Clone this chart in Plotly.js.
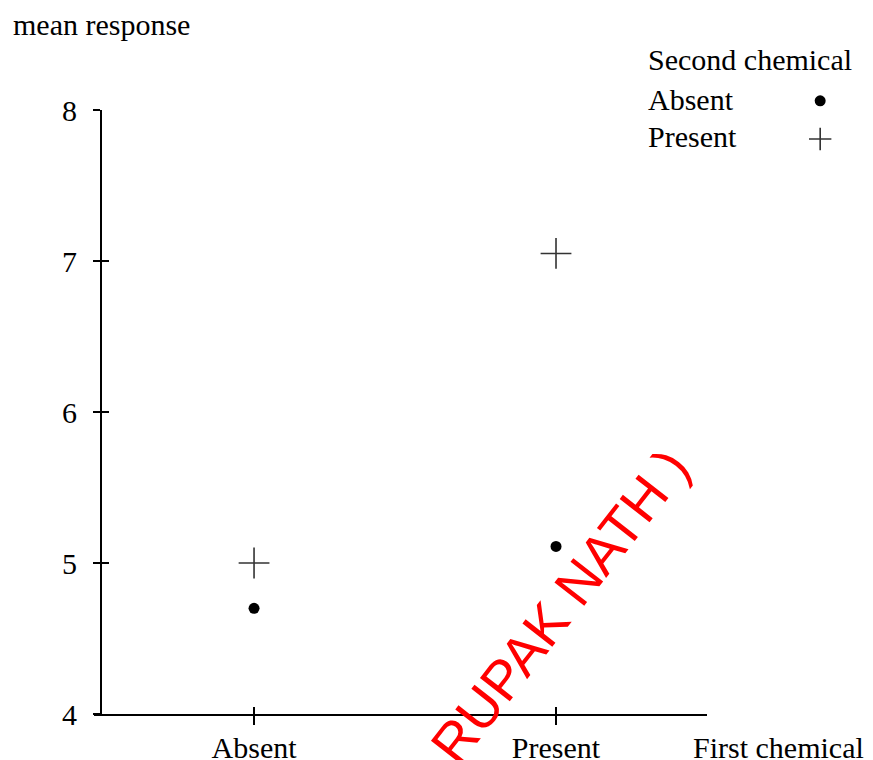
<!DOCTYPE html>
<html>
<head>
<meta charset="utf-8">
<script src="https://cdn.plot.ly/plotly-3.0.1.min.js"></script>
<style>
  html, body { margin: 0; padding: 0; background: #fff; }
  #chart { width: 873px; height: 760px; }
</style>
</head>
<body>
<div id="chart"></div>
<script>
// ---- data ----
const firstChemical = ['Absent', 'Present'];
const secondAbsentMeans = [4.70, 5.11];
const secondPresentMeans = [5.00, 7.05];
const yTickVals = [4, 5, 6, 7, 8];
const yAxisLabel = 'mean response';
const xAxisLabel = 'First chemical';
const legendTitle = 'Second chemical';
const seriesNames = ['Absent', 'Present'];
const watermark = 'RUPAK NATH )';

const serif = 'Liberation Serif, Times New Roman, serif';
const fs = 30;

const traces = [
  {
    x: firstChemical, y: secondAbsentMeans, type: 'scatter', mode: 'markers',
    name: '', xaxis: 'x', yaxis: 'y',
    marker: { symbol: 'circle', size: 11, color: '#000' },
    hoverinfo: 'x+y'
  },
  {
    x: firstChemical, y: secondPresentMeans, type: 'scatter', mode: 'markers',
    name: '', xaxis: 'x', yaxis: 'y',
    marker: { symbol: 'cross-thin-open', size: 22, color: '#333', line: { width: 1.6, color: '#333' } },
    hoverinfo: 'x+y'
  }
];

const axisCommon = {
  showgrid: false, zeroline: false, tickcolor: '#000', tickwidth: 1.6,
  tickfont: { family: serif, size: fs, color: '#000' }
};

const layout = {
  width: 873, height: 760,
  margin: { l: 94, r: 166, t: 110, b: 46, pad: 0 },
  paper_bgcolor: '#fff', plot_bgcolor: '#fff',
  showlegend: true,
  legend: {
    x: 1.152, y: 1.055, xanchor: 'left', yanchor: 'top',
    font: { family: serif, size: 27, color: '#000' },
    bgcolor: 'rgba(0,0,0,0)', borderwidth: 0, itemwidth: 30
  },
  xaxis: Object.assign({}, axisCommon, {
    type: 'category', categoryorder: 'array', categoryarray: firstChemical,
    range: [-0.53, 1.5], showline: true, linecolor: '#000', linewidth: 2,
    ticks: 'outside', ticklen: 9, anchor: 'y', ticklabelstandoff: -3
  }),
  xaxis2: Object.assign({}, axisCommon, {
    type: 'category', categoryorder: 'array', categoryarray: firstChemical,
    range: [-0.53, 1.5], overlaying: 'x', anchor: 'y', side: 'bottom',
    ticks: 'inside', ticklen: 7, showticklabels: false, showline: false
  }),
  yaxis: Object.assign({}, axisCommon, {
    range: [4, 8], tickvals: yTickVals, showline: true, linecolor: '#000', linewidth: 2,
    ticks: 'outside', ticklen: 7, anchor: 'free', position: 7 / 613, ticklabelstandoff: 10
  }),
  yaxis2: Object.assign({}, axisCommon, {
    range: [4, 8], tickvals: yTickVals, overlaying: 'y', anchor: 'free', position: 7 / 613,
    ticks: 'inside', ticklen: 7, showticklabels: false, showline: false
  }),
  annotations: [
    { text: yAxisLabel, xref: 'paper', yref: 'paper', x: -83 / 613, y: (714 - 24) / 604,
      xanchor: 'left', yanchor: 'middle', showarrow: false, font: { family: serif, size: fs, color: '#000' } },
    { text: xAxisLabel, xref: 'paper', yref: 'paper', x: (691 - 94) / 613, y: (714 - 747) / 604,
      xanchor: 'left', yanchor: 'middle', showarrow: false, font: { family: serif, size: fs, color: '#000' } },
    { text: legendTitle, xref: 'paper', yref: 'paper', x: (646 - 94) / 613, y: (714 - 60) / 604,
      xanchor: 'left', yanchor: 'middle', showarrow: false, font: { family: serif, size: fs, color: '#000' } },
    { text: seriesNames[0], xref: 'paper', yref: 'paper', x: (646 - 94) / 613, y: (714 - 99) / 604,
      xanchor: 'left', yanchor: 'middle', showarrow: false, font: { family: serif, size: fs, color: '#000' } },
    { text: seriesNames[1], xref: 'paper', yref: 'paper', x: (646 - 94) / 613, y: (714 - 137) / 604,
      xanchor: 'left', yanchor: 'middle', showarrow: false, font: { family: serif, size: fs, color: '#000' } },
    { text: watermark, xref: 'paper', yref: 'paper', x: (560 - 94) / 613, y: (714 - 606) / 604,
      xanchor: 'center', yanchor: 'middle', showarrow: false, textangle: -52,
      font: { family: 'Liberation Sans, Arial, sans-serif', size: 55, color: '#ff0000' } }
  ]
};

// empty trace that activates the overlay axes (draws no marks)
traces.push({ x: [], y: [], xaxis: 'x2', yaxis: 'y2', type: 'scatter', mode: 'markers', showlegend: false, hoverinfo: 'skip' });

Plotly.newPlot('chart', traces, layout, { displayModeBar: false, staticPlot: true });
</script>
</body>
</html>
